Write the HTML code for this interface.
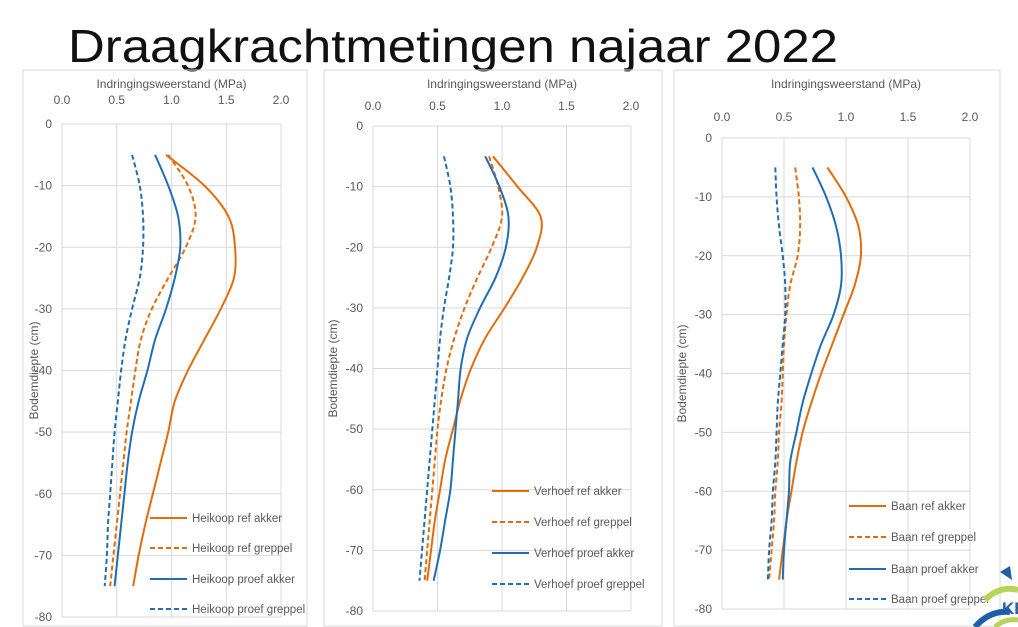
<!DOCTYPE html>
<html><head><meta charset="utf-8"><style>
html,body{margin:0;padding:0;background:#fff;width:1018px;height:627px;overflow:hidden}
svg text{font-family:"Liberation Sans",sans-serif}
</style></head><body>
<svg id="s" width="1018" height="627" viewBox="0 0 1018 627" xmlns="http://www.w3.org/2000/svg">
<text x="68" y="62" font-size="46" fill="#111" textLength="770" lengthAdjust="spacingAndGlyphs">Draagkrachtmetingen najaar 2022</text>
<rect x="23" y="70" width="284" height="556" fill="none" stroke="#d9d9d9"/>
<rect x="324" y="70" width="338" height="556" fill="none" stroke="#d9d9d9"/>
<rect x="674" y="70" width="326" height="556" fill="none" stroke="#d9d9d9"/>
<g id="c1"></g><g id="c2"></g><g id="c3"></g>
<g>
<path d="M1000 572 L1010 566 L1012 580 Z" fill="#1f5fa8"/>
<path d="M985 600 Q1000 585 1018 590" stroke="#b7d35a" stroke-width="6" fill="none"/>
<path d="M975 627 Q990 610 1010 612" stroke="#1f5fa8" stroke-width="6" fill="none"/>
<path d="M995 627 Q1005 618 1018 620" stroke="#b7d35a" stroke-width="5" fill="none"/>
<text x="1002" y="614" font-size="17" font-weight="bold" fill="#1f5fa8">KE</text>
</g>
</svg>
<script>
var NS="http://www.w3.org/2000/svg";
function el(p,t,a,txt){var e=document.createElementNS(NS,t);for(var k in a)e.setAttribute(k,a[k]);if(txt!==undefined)e.textContent=txt;p.appendChild(e);return e;}
var O="#e36c0a",B="#1f6eb4";
var charts=[
{g:"c1",x0:62,x1:281,y0:124,y1:617,tl:104,at:84,yt:38,name:"Heikoop",lx:150,ly:[518,548,579,609],
d:[[0.95,1.3,1.52,1.58,1.57,1.45,1.3,1.15,1.03,0.97,0.9,0.83,0.76,0.7,0.65],
[0.97,1.15,1.22,1.13,0.97,0.82,0.72,0.67,0.63,0.59,0.56,0.53,0.5,0.47,0.44],
[0.85,0.97,1.06,1.08,1.03,0.95,0.85,0.78,0.7,0.64,0.6,0.57,0.54,0.51,0.48],
[0.64,0.71,0.74,0.74,0.71,0.64,0.58,0.54,0.51,0.48,0.46,0.44,0.42,0.41,0.39]]},
{g:"c2",x0:373,x1:631,y0:126,y1:611,tl:110,at:84,yt:337,name:"Verhoef",lx:492,ly:[491,522,553,584],
d:[[0.93,1.12,1.3,1.27,1.16,1.02,0.87,0.76,0.68,0.62,0.56,0.52,0.48,0.45,0.42],
[0.9,0.97,1.0,0.92,0.81,0.71,0.63,0.57,0.53,0.5,0.48,0.46,0.44,0.42,0.4],
[0.87,0.98,1.05,1.03,0.95,0.83,0.73,0.68,0.66,0.64,0.62,0.6,0.56,0.52,0.47],
[0.55,0.6,0.62,0.62,0.59,0.55,0.52,0.5,0.48,0.46,0.44,0.42,0.4,0.38,0.36]]},
{g:"c3",x0:722,x1:970,y0:138,y1:609,tl:121,at:84,yt:686,name:"Baan",lx:849,ly:[506,537,569,599],
d:[[0.85,1.0,1.1,1.12,1.07,0.98,0.89,0.8,0.72,0.65,0.6,0.56,0.52,0.49,0.46],
[0.59,0.62,0.63,0.61,0.55,0.52,0.5,0.49,0.48,0.46,0.45,0.43,0.42,0.4,0.38],
[0.73,0.84,0.92,0.96,0.96,0.9,0.8,0.72,0.65,0.6,0.55,0.54,0.52,0.5,0.49],
[0.43,0.44,0.46,0.49,0.51,0.51,0.49,0.47,0.45,0.44,0.43,0.41,0.4,0.38,0.37]]}];
var st=[[O,""],[O,"5 3"],[B,""],[B,"5 3"]];
var lab=["ref akker","ref greppel","proef akker","proef greppel"];
charts.forEach(function(c){
 var g=document.getElementById(c.g);
 var X=function(v){return c.x0+(c.x1-c.x0)*v/2},Y=function(d){return c.y0+(c.y1-c.y0)*(-d)/80};
 for(var i=0;i<=4;i++){var x=X(i*0.5);el(g,"line",{x1:x,x2:x,y1:c.y0,y2:c.y1,stroke:"#d9d9d9"});
  el(g,"text",{x:x,y:c.tl,"font-size":12,fill:"#595959","text-anchor":"middle"},(i*0.5).toFixed(1));}
 for(var j=0;j<=8;j++){var y=Y(-j*10);el(g,"line",{x1:c.x0,x2:c.x1,y1:y,y2:y,stroke:"#d9d9d9"});
  el(g,"text",{x:c.x0-10,y:y+4,"font-size":12,fill:"#595959","text-anchor":"end"},j?("-"+j*10):"0");}
 el(g,"text",{x:(c.x0+c.x1)/2,y:c.at+4,"font-size":12,fill:"#595959","text-anchor":"middle"},"Indringingsweerstand (MPa)");
 var my=(c.y0+c.y1)/2;
 el(g,"text",{x:c.yt,y:my,"font-size":12,fill:"#595959","text-anchor":"middle",transform:"rotate(-90 "+c.yt+" "+my+")"},"Bodemdiepte (cm)");
 c.d.forEach(function(a,k){
  var p=a.map(function(v,i){return [X(v),Y(-5-5*i)]});
  var s="M"+p[0][0]+" "+p[0][1];
  for(var i=0;i<p.length-1;i++){var p0=p[i-1]||p[i],p1=p[i],p2=p[i+1],p3=p[i+2]||p2;
   s+=" C"+(p1[0]+(p2[0]-p0[0])/6)+" "+(p1[1]+(p2[1]-p0[1])/6)+" "+(p2[0]-(p3[0]-p1[0])/6)+" "+(p2[1]-(p3[1]-p1[1])/6)+" "+p2[0]+" "+p2[1];}
  var at={d:s,fill:"none",stroke:st[k][0],"stroke-width":2};if(st[k][1])at["stroke-dasharray"]=st[k][1];
  el(g,"path",at);
  var la={x1:c.lx,x2:c.lx+37,y1:c.ly[k],y2:c.ly[k],stroke:st[k][0],"stroke-width":2};if(st[k][1])la["stroke-dasharray"]=st[k][1];
  el(g,"line",la);
  el(g,"text",{x:c.lx+42,y:c.ly[k]+4,"font-size":11.5,fill:"#595959"},c.name+" "+lab[k]);
 });
});
</script>
</body></html>
